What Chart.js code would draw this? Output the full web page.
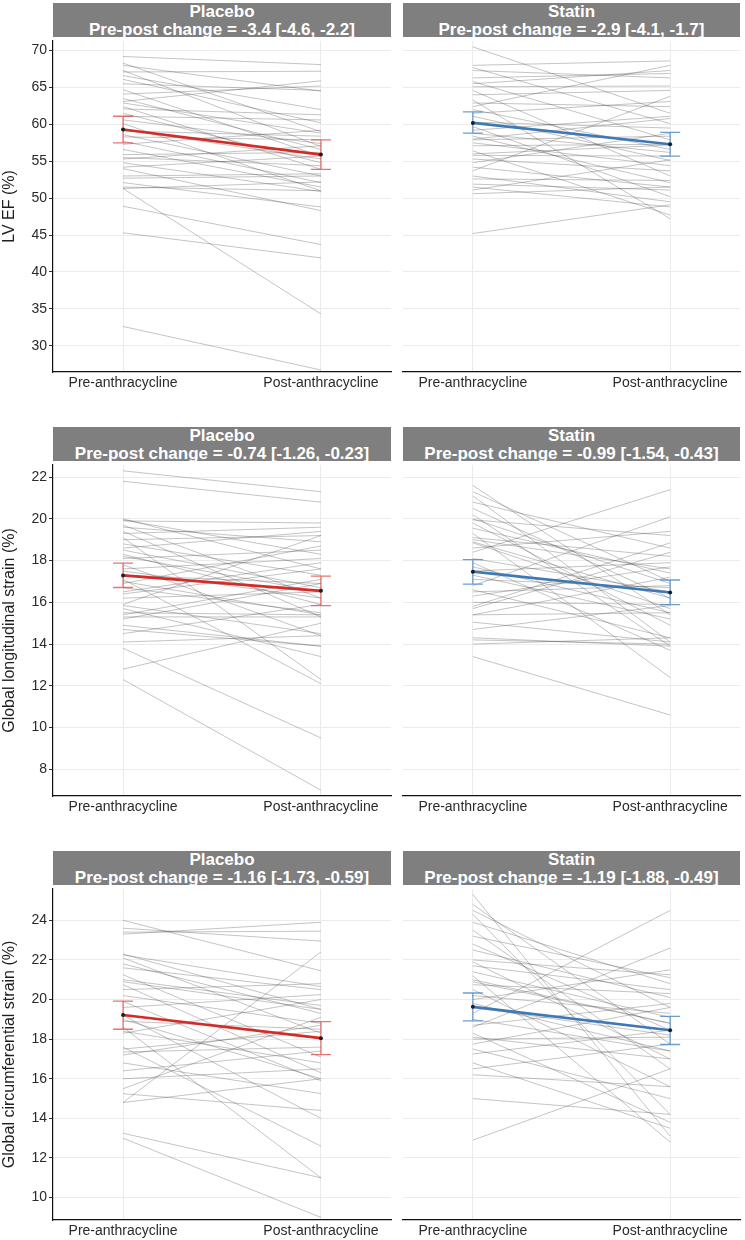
<!DOCTYPE html>
<html>
<head>
<meta charset="utf-8">
<script src="https://cdn.jsdelivr.net/npm/chart.js@4.4.1/dist/chart.umd.min.js"></script>
<style>
  body { margin: 0; background: #fff; font-family: "Liberation Sans", Arial, sans-serif; }
  #page { position: relative; width: 745px; height: 1240px; overflow: hidden; }
  .strip { position: absolute; height: 34px; background: #7f7f7f; color: #fff; font-weight: bold;
           font-size: 17px; line-height: 18px; text-align: center; overflow: hidden; white-space: nowrap; }
  canvas { position: absolute; }
</style>
</head>
<body>
<div id="page"></div>
<script>
// x categories
const xLabels = ["Pre-anthracycline", "Post-anthracycline"];
const xPositions = [1, 2];

// y tick labels
const efTicks = [30, 35, 40, 45, 50, 55, 60, 65, 70];
const glsTicks = [8, 10, 12, 14, 16, 18, 20, 22];
const gcsTicks = [10, 12, 14, 16, 18, 20, 22, 24];

// LV EF, individual patients
const efPlaceboPre  = [69.2, 68.3, 68.0, 67.3, 67.1, 66.6, 66.1, 65.5, 64.7, 64.1, 63.5, 63.1, 62.9, 62.4, 62.1, 61.5, 61.1, 60.6, 60.1, 59.3, 59.1, 58.6, 58.3, 57.7, 57.3, 56.6, 55.9, 55.5, 55.3, 54.8, 54.2, 53.0, 52.7, 52.1, 54.0, 51.5, 51.3, 51.3, 48.9, 45.3, 32.6];
const efPlaceboPost = [68.1, 59.0, 64.5, 57.0, 67.2, 62.0, 60.2, 64.6, 55.7, 65.2, 56.6, 65.9, 58.8, 53.9, 61.3, 54.8, 60.6, 57.4, 51.0, 55.3, 58.4, 53.0, 57.9, 52.1, 59.2, 51.5, 56.2, 54.4, 57.1, 50.9, 55.7, 53.3, 53.0, 48.8, 48.3, 51.0, 52.2, 34.3, 43.7, 41.9, 26.7];
const efStatinPre   = [70.5, 68.0, 67.7, 67.3, 65.8, 65.5, 65.1, 64.6, 64.0, 63.3, 62.9, 62.4, 62.0, 61.5, 61.1, 60.3, 59.7, 59.2, 58.8, 58.4, 57.9, 57.5, 57.1, 56.4, 55.8, 55.3, 54.8, 54.2, 53.7, 53.0, 52.6, 51.9, 51.5, 51.1, 50.6, 45.2, 66.3, 58.0, 56.0];
const efStatinPost  = [61.5, 68.6, 60.1, 66.3, 57.9, 67.3, 65.2, 53.0, 64.6, 47.2, 62.4, 68.0, 56.6, 63.1, 55.1, 59.5, 50.2, 61.1, 56.2, 52.1, 58.4, 54.4, 57.3, 47.7, 55.7, 53.7, 58.8, 51.5, 63.8, 49.5, 52.4, 51.1, 48.8, 55.2, 51.5, 49.1, 66.9, 60.8, 57.2];

// Global longitudinal strain, individual patients
const glsPlaceboPre  = [22.3, 21.8, 20.0, 19.9, 19.7, 19.6, 19.4, 19.3, 19.1, 18.8, 18.6, 18.5, 18.3, 18.1, 17.8, 17.6, 17.3, 17.1, 16.9, 16.7, 16.5, 16.2, 15.9, 15.7, 15.4, 15.85, 15.5, 15.2, 14.7, 14.5, 14.1, 13.8, 12.8, 12.3, 19.95, 18.2, 17.0, 16.4, 15.3, 14.9, 19.0, 17.5];
const glsPlaceboPost = [21.3, 20.8, 17.6, 19.8, 16.2, 18.9, 15.3, 19.6, 12.3, 17.3, 19.4, 16.7, 15.9, 18.5, 14.4, 18.1, 16.9, 12.1, 18.7, 15.5, 17.9, 16.5, 19.2, 13.4, 17.1, 14.5, 15.4, 16.9, 13.9, 15.9, 14.4, 9.5, 15.0, 7.0, 18.3, 16.5, 15.4, 17.6, 15.3, 13.9, 19.2, 16.2];
const glsStatinPre   = [21.6, 21.3, 21.1, 20.8, 20.5, 20.2, 19.95, 19.8, 19.55, 19.3, 19.1, 18.85, 18.6, 18.4, 18.1, 17.9, 17.5, 17.3, 17.1, 16.8, 16.6, 16.3, 16.0, 15.7, 15.4, 15.8, 15.4, 15.05, 14.7, 14.3, 14.0, 13.4, 20.0, 18.9, 17.7, 16.5, 19.0, 14.2];
const glsStatinPost  = [15.4, 17.0, 14.1, 18.6, 16.2, 13.9, 19.2, 14.9, 17.4, 12.4, 18.2, 15.7, 19.4, 21.4, 16.5, 13.7, 17.9, 15.2, 16.7, 20.1, 14.3, 17.7, 15.9, 18.4, 15.5, 18.85, 17.2, 14.1, 15.85, 13.9, 14.3, 10.6, 16.9, 16.2, 15.5, 16.8, 17.6, 14.0];

// Global circumferential strain, individual patients
const gcsPlaceboPre  = [24.0, 23.6, 23.4, 23.3, 22.3, 22.25, 22.1, 21.8, 21.6, 21.25, 21.0, 20.75, 20.5, 20.2, 19.9, 19.6, 19.2, 18.9, 18.6, 18.3, 18.4, 17.6, 17.35, 17.2, 16.8, 16.4, 16.0, 15.5, 15.25, 14.8, 13.25, 13.0, 17.5, 19.0, 20.9, 14.8];
const gcsPlaceboPost = [21.45, 22.95, 23.45, 23.9, 19.5, 20.65, 18.3, 19.3, 20.5, 17.1, 19.7, 16.3, 20.8, 18.8, 15.9, 20.25, 14.0, 18.5, 11.0, 20.0, 16.8, 12.6, 17.6, 18.7, 15.25, 17.4, 16.5, 19.1, 14.4, 22.4, 11.0, 9.0, 18.4, 16.0, 19.5, 16.0];
const gcsStatinPre   = [25.3, 24.8, 24.5, 24.3, 23.9, 23.5, 23.2, 22.8, 22.5, 22.0, 21.9, 21.7, 21.4, 21.2, 20.9, 20.75, 20.5, 20.2, 20.0, 19.6, 19.3, 19.0, 18.7, 18.3, 18.0, 18.6, 18.1, 17.75, 17.5, 17.25, 16.8, 16.5, 16.2, 15.0, 12.9, 21.0, 19.8];
const gcsStatinPost  = [13.1, 17.75, 19.6, 14.2, 20.8, 16.5, 21.1, 18.45, 20.1, 21.25, 17.0, 20.5, 19.1, 12.8, 18.8, 20.3, 15.6, 19.3, 21.5, 18.2, 24.5, 17.4, 19.8, 13.8, 18.1, 22.6, 17.0, 19.6, 15.0, 18.45, 13.5, 17.75, 15.6, 14.2, 16.5, 18.8, 17.4];

// group means with 95% CI (pre, post)
const efPlaceboMean = [59.3, 55.9];  const efPlaceboLow = [57.5, 53.9];  const efPlaceboHigh = [61.1, 57.9];
const efStatinMean  = [60.2, 57.3];  const efStatinLow  = [58.8, 55.7];  const efStatinHigh  = [61.7, 58.9];
const glsPlaceboMean = [17.29, 16.55]; const glsPlaceboLow = [16.71, 15.84]; const glsPlaceboHigh = [17.88, 17.26];
const glsStatinMean  = [17.47, 16.47]; const glsStatinLow  = [16.87, 15.89]; const glsStatinHigh  = [18.05, 17.07];
const gcsPlaceboMean = [19.22, 18.05]; const gcsPlaceboLow = [18.5, 17.22];  const gcsPlaceboHigh = [19.92, 18.88];
const gcsStatinMean  = [19.63, 18.45]; const gcsStatinLow  = [18.92, 17.73]; const gcsStatinHigh  = [20.33, 19.15];

const rows = [
  { yTitle: "LV EF (%)", ticks: efTicks, min: 26.43, max: 71.3,
    panels: [
      { name: "Placebo", change: "Pre-post change = -3.4 [-4.6, -2.2]", pre: efPlaceboPre, post: efPlaceboPost, mean: efPlaceboMean, low: efPlaceboLow, high: efPlaceboHigh },
      { name: "Statin", change: "Pre-post change = -2.9 [-4.1, -1.7]", pre: efStatinPre, post: efStatinPost, mean: efStatinMean, low: efStatinLow, high: efStatinHigh }
    ] },
  { yTitle: "Global longitudinal strain (%)", ticks: glsTicks, min: 6.72, max: 22.58,
    panels: [
      { name: "Placebo", change: "Pre-post change = -0.74 [-1.26, -0.23]", pre: glsPlaceboPre, post: glsPlaceboPost, mean: glsPlaceboMean, low: glsPlaceboLow, high: glsPlaceboHigh },
      { name: "Statin", change: "Pre-post change = -0.99 [-1.54, -0.43]", pre: glsStatinPre, post: glsStatinPost, mean: glsStatinMean, low: glsStatinLow, high: glsStatinHigh }
    ] },
  { yTitle: "Global circumferential strain (%)", ticks: gcsTicks, min: 8.87, max: 25.58,
    panels: [
      { name: "Placebo", change: "Pre-post change = -1.16 [-1.73, -0.59]", pre: gcsPlaceboPre, post: gcsPlaceboPost, mean: gcsPlaceboMean, low: gcsPlaceboLow, high: gcsPlaceboHigh },
      { name: "Statin", change: "Pre-post change = -1.19 [-1.88, -0.49]", pre: gcsStatinPre, post: gcsStatinPost, mean: gcsStatinMean, low: gcsStatinLow, high: gcsStatinHigh }
    ] }
];

const groupColors = [
  { line: "#d42a28", bar: "rgba(222,70,66,0.75)" },
  { line: "#3d79b4", bar: "rgba(70,135,195,0.8)" }
];

// error bars drawn just before the mean line
const errorBars = {
  id: "errorBars",
  beforeDatasetDraw(chart, args, opts) {
    if (args.index !== chart.data.datasets.length - 1) return;
    const { ctx } = chart;
    const x = chart.scales.x, y = chart.scales.y;
    ctx.save();
    ctx.strokeStyle = opts.color;
    ctx.lineWidth = 1.3;
    opts.low.forEach((lo, i) => {
      const px = x.getPixelForValue(xPositions[i]);
      const yl = y.getPixelForValue(lo);
      const yh = y.getPixelForValue(opts.high[i]);
      ctx.beginPath();
      ctx.moveTo(px, yl); ctx.lineTo(px, yh);
      ctx.moveTo(px - 10, yl); ctx.lineTo(px + 10, yl);
      ctx.moveTo(px - 10, yh); ctx.lineTo(px + 10, yh);
      ctx.stroke();
    });
    ctx.restore();
  }
};

const page = document.getElementById("page");
const stripTops = [3, 427, 851];
const stripLeft = [53, 403];
const stripWidth = [338, 337];
const plotH = 335;

rows.forEach((row, r) => {
  row.panels.forEach((p, c) => {
    const strip = document.createElement("div");
    strip.className = "strip";
    strip.style.left = stripLeft[c] + "px";
    strip.style.top = stripTops[r] + "px";
    strip.style.width = stripWidth[c] + "px";
    strip.innerHTML = p.name + "<br>" + p.change;
    page.appendChild(strip);

    const canvas = document.createElement("canvas");
    const left = c === 0 ? 0 : 395;
    const w = c === 0 ? 395 : 350;
    const h = plotH + 26;
    canvas.width = w; canvas.height = h;
    canvas.style.left = left + "px";
    canvas.style.top = (stripTops[r] + 34) + "px";
    canvas.style.width = w + "px"; canvas.style.height = h + "px";
    page.appendChild(canvas);

    const datasets = p.pre.map((v, i) => ({
      type: "line",
      data: [{ x: xPositions[0], y: v }, { x: xPositions[1], y: p.post[i] }],
      borderColor: "rgba(60,60,60,0.3)",
      borderWidth: 1,
      pointRadius: 0,
      order: 1
    }));
    datasets.push({
      type: "line",
      data: p.mean.map((v, i) => ({ x: xPositions[i], y: v })),
      borderColor: groupColors[c].line,
      borderWidth: 2.6,
      pointRadius: 2,
      pointBorderWidth: 0,
      pointBackgroundColor: "#1e1e1e",
      order: 0
    });

    new Chart(canvas.getContext("2d"), {
      type: "line",
      data: { datasets },
      plugins: [errorBars],
      options: {
        responsive: false,
        animation: false,
        events: [],
        layout: { padding: { top: 0, right: c === 0 ? 4 : 5, left: 0, bottom: 0 } },
        plugins: {
          legend: { display: false },
          tooltip: { enabled: false },
          errorBars: { low: p.low, high: p.high, color: groupColors[c].bar }
        },
        scales: {
          x: {
            type: "linear",
            min: 0.646, max: 2.354,
            afterBuildTicks: s => { s.ticks = xPositions.map(v => ({ value: v })); },
            afterFit: s => { s.height = 26; s.paddingLeft = 0; s.paddingRight = 0; },
            ticks: {
              callback: (v, i) => xLabels[i],
              color: "#2a2a2a",
              font: { family: "'Liberation Sans', Arial, sans-serif", size: 14 },
              padding: 3,
              maxRotation: 0
            },
            grid: { color: "#ebebeb", lineWidth: 1, drawTicks: false },
            border: { display: true, color: "#111", width: 1.2 }
          },
          y: {
            type: "linear",
            min: row.min, max: row.max,
            afterBuildTicks: s => { s.ticks = row.ticks.map(v => ({ value: v })); },
            afterFit: s => { s.width = c === 0 ? 53 : 8; s.paddingTop = 0; s.paddingBottom = 0; },
            title: {
              display: c === 0,
              text: row.yTitle,
              color: "#1e1e1e",
              font: { family: "'Liberation Sans', Arial, sans-serif", size: 16 },
              padding: { top: 0, bottom: 0 }
            },
            ticks: {
              display: c === 0,
              color: "#2a2a2a",
              font: { family: "'Liberation Sans', Arial, sans-serif", size: 14 },
              padding: 2
            },
            grid: {
              color: "#ebebeb", lineWidth: 1,
              drawTicks: c === 0, tickLength: 4, tickColor: "#333"
            },
            border: { display: c === 0, color: "#111", width: 1.2 }
          }
        }
      }
    });
  });
});
</script>
</body>
</html>
